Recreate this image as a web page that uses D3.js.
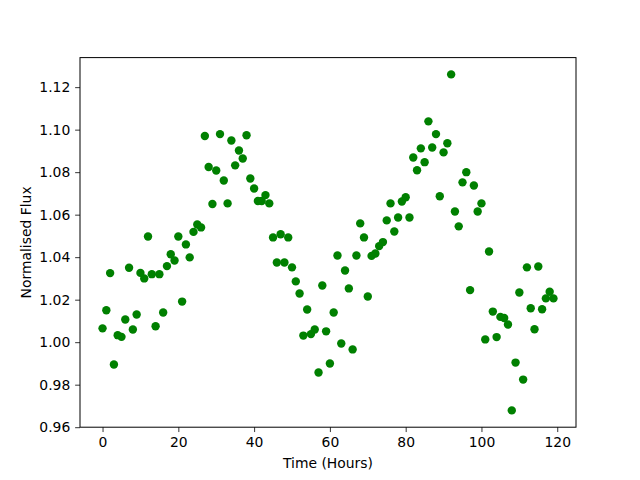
<!DOCTYPE html>
<head>
<meta charset="utf-8">
<script src="https://d3js.org/d3.v7.min.js"></script>
<style>
  body { margin: 0; background: #fff; }
  text { font-family: "DejaVu Sans", sans-serif; }
</style>
</head>
<body>
<div id="chart"></div>
<script>
// normalised flux, one reading per hour
var flux = [
  1.0065, 1.0150, 1.0325, 0.9895, 1.0033, 1.0025, 1.0107, 1.0350, 1.0060, 1.0130,
  1.0326, 1.0300, 1.0497, 1.0320, 1.0075, 1.0320, 1.0140, 1.0358, 1.0414, 1.0384,
  1.0497, 1.0191, 1.0460, 1.0399, 1.0519, 1.0554, 1.0540, 1.0970, 1.0824, 1.0650,
  1.0808, 1.0979, 1.0761, 1.0653, 1.0949, 1.0832, 1.0902, 1.0864, 1.0974, 1.0770,
  1.0723, 1.0664, 1.0664, 1.0692, 1.0653, 1.0493, 1.0375, 1.0508, 1.0375, 1.0493,
  1.0352, 1.0286, 1.0229, 1.0031, 1.0154, 1.0038, 1.0060, 0.9857, 1.0267, 1.0051,
  0.9900, 1.0140, 1.0408, 0.9994, 1.0337, 1.0253, 0.9966, 1.0408, 1.0559, 1.0493,
  1.0215, 1.0406, 1.0417, 1.0452, 1.0471, 1.0573, 1.0653, 1.0521, 1.0587, 1.0662,
  1.0682, 1.0587, 1.0869, 1.0809, 1.0912, 1.0847, 1.1039, 1.0916, 1.0979, 1.0687,
  1.0893, 1.0936, 1.1260, 1.0615, 1.0545, 1.0752, 1.0800, 1.0245, 1.0737, 1.0615,
  1.0653, 1.0013, 1.0427, 1.0144, 1.0024, 1.0119, 1.0114, 1.0083, 0.9679, 0.9904,
  1.0234, 0.9824, 1.0352, 1.0160, 1.0061, 1.0356, 1.0155, 1.0206, 1.0237, 1.0206
];
var hours = d3.range(flux.length);
var xTicks = [0, 20, 40, 60, 80, 100, 120];
var yTicks = [0.96, 0.98, 1.00, 1.02, 1.04, 1.06, 1.08, 1.10, 1.12];

var W = 640, H = 480;
var margin = {top: 57.6, right: 64, bottom: 52.8, left: 80};
var width = W - margin.left - margin.right,
    height = H - margin.top - margin.bottom;

var svg = d3.select("#chart").append("svg")
    .attr("width", W).attr("height", H);
var g = svg.append("g")
    .attr("transform", "translate(" + margin.left + "," + margin.top + ")");

// matplotlib style 5% padding
function padded(ext) {
  var r = ext[1] - ext[0];
  return [ext[0] - 0.05 * r, ext[1] + 0.05 * r];
}
var x = d3.scaleLinear().domain(padded(d3.extent(hours))).range([0, width]);
var y = d3.scaleLinear().domain(padded(d3.extent(flux))).range([height, 0]);

g.selectAll("circle")
  .data(hours)
  .enter().append("circle")
    .attr("cx", function(d) { return x(d); })
    .attr("cy", function(d) { return y(flux[d]); })
    .attr("r", 4.2)
    .attr("fill", "#008000");

var tick = 4.86;
var xAxis = g.append("g")
    .attr("transform", "translate(0," + height + ")")
    .call(d3.axisBottom(x).tickValues(xTicks).tickSize(tick).tickSizeOuter(0).tickPadding(4.9));
var yAxis = g.append("g")
    .call(d3.axisLeft(y).tickValues(yTicks).tickFormat(d3.format(".2f")).tickSize(tick).tickSizeOuter(0).tickPadding(4.9));

[xAxis, yAxis].forEach(function(a) {
  a.select(".domain").remove();
  a.selectAll(".tick line").attr("stroke", "#000").attr("stroke-width", 0.8);
  a.selectAll(".tick text")
    .attr("fill", "#000")
    .style("font-family", "DejaVu Sans")
    .style("font-size", "13.9px");
});

// frame
g.append("rect")
  .attr("width", width).attr("height", height)
  .attr("fill", "none").attr("stroke", "#000").attr("stroke-width", 1);

svg.append("text")
  .attr("x", margin.left + width / 2).attr("y", 468)
  .attr("text-anchor", "middle")
  .style("font-size", "13.9px")
  .text("Time (Hours)");

svg.append("text")
  .attr("transform", "translate(31," + (margin.top + height / 2) + ") rotate(-90)")
  .attr("text-anchor", "middle")
  .style("font-size", "13.9px")
  .text("Normalised Flux");
</script>
</body>
